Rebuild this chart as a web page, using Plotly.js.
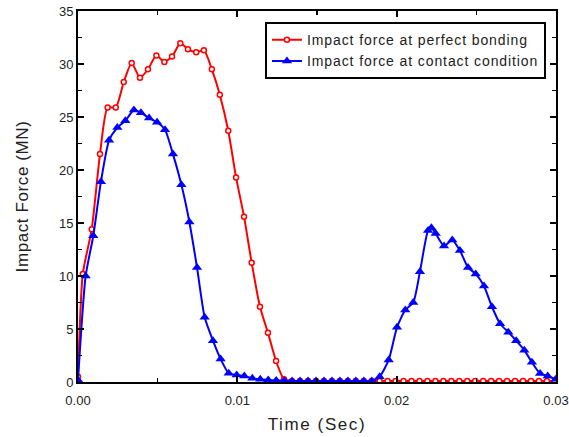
<!DOCTYPE html>
<html><head><meta charset="utf-8">
<script src="https://cdn.plot.ly/plotly-3.0.1.min.js"></script>
<style>html,body{margin:0;padding:0;background:#fff;}#chart{width:569px;height:437px;}
.legendtext{letter-spacing:0.9px;}
.xtitle{letter-spacing:1.6px;}
.ytitle{letter-spacing:0.6px;}
</style>
</head><body><div id="chart"></div>
<script>
var bondTime = [0, 0.0003, 0.00086, 0.00138, 0.00186, 0.00237, 0.00287, 0.00337, 0.00389, 0.00439, 0.00492, 0.00542, 0.0059, 0.00642, 0.0069, 0.00742, 0.0079, 0.0084, 0.0089, 0.00943, 0.00992, 0.01042, 0.0109, 0.01142, 0.01192, 0.01243, 0.01293,
  0.01343, 0.01393, 0.01443, 0.01493, 0.01543, 0.01593, 0.01643, 0.01693, 0.01743, 0.01793, 0.01843, 0.01893, 0.01943, 0.01993, 0.02043, 0.02093, 0.02143, 0.02193, 0.02243, 0.02293, 0.02343, 0.02393, 0.02443, 0.02493, 0.02543, 0.02593, 0.02643, 0.02693, 0.02743, 0.02793, 0.02843, 0.02893, 0.02943, 0.02993];
var bondForce = [0.5, 10.2, 14.4, 21.5, 25.9, 25.9, 28.3, 30.1, 28.7, 29.5, 30.8, 30.2, 30.7, 31.95, 31.4, 31.1, 31.3, 29.5, 27.1, 23.7, 19.3, 15.6, 11.25, 7.1, 4.65, 1.98, 0.25,
  0.1, 0.1, 0.1, 0.1, 0.1, 0.1, 0.1, 0.1, 0.1, 0.1, 0.1, 0.1, 0.1, 0.1, 0.1, 0.1, 0.1, 0.1, 0.1, 0.1, 0.1, 0.1, 0.1, 0.1, 0.1, 0.1, 0.1, 0.1, 0.1, 0.1, 0.1, 0.1, 0.1, 0.1];

var contactTime = [0, 0.00048, 0.00096, 0.00144, 0.00195, 0.00247, 0.00297, 0.00351, 0.00395, 0.00446, 0.00496, 0.00546, 0.00596, 0.00649, 0.00699, 0.00747, 0.00795, 0.00847, 0.00895, 0.00946, 0.00996, 0.01044, 0.01094, 0.01144, 0.01194,
  0.01244, 0.01294, 0.01344, 0.01394, 0.01444, 0.01494, 0.01544, 0.01594, 0.01644, 0.01694, 0.01744, 0.01794, 0.01844,
  0.01893, 0.0195, 0.02002, 0.02054, 0.02104, 0.02146, 0.02197, 0.02218, 0.02245, 0.02297, 0.02349, 0.02397, 0.02448, 0.02496, 0.02548, 0.02598, 0.02649, 0.02701, 0.0275, 0.02801, 0.02849, 0.029, 0.02948, 0.02998];
var contactForce = [0.2, 10.0, 13.8, 18.9, 22.8, 24.0, 24.65, 25.66, 25.4, 24.9, 24.5, 23.8, 21.5, 18.6, 15.1, 10.8, 6.1, 3.9, 2.17, 0.82, 0.66, 0.57, 0.35, 0.25, 0.2,
  0.15, 0.12, 0.1, 0.1, 0.1, 0.1, 0.1, 0.1, 0.1, 0.1, 0.1, 0.1, 0.1,
  0.5, 2.08, 5.16, 6.8, 7.5, 10.4, 14.3, 14.56, 14.0, 12.83, 13.4, 12.4, 10.8, 10.2, 9.06, 7.1, 5.5, 4.7, 3.9, 3.0, 1.86, 0.8, 0.57, 0.25];

var xTickVals = [0, 0.01, 0.02, 0.03];
var xTickText = ['0.00', '0.01', '0.02', '0.03'];
var yTickVals = [0, 5, 10, 15, 20, 25, 30, 35];

var font = "'Liberation Sans', Arial, sans-serif";

var traces = [
  {x: bondTime, y: bondForce, mode: 'lines+markers', name: 'Impact force at perfect bonding',
   line: {color: '#ff0000', width: 2, shape: 'spline', smoothing: 0.6},
   marker: {symbol: 'circle', size: 5, color: '#ffffff', line: {color: '#ff0000', width: 1.5}}},
  {x: contactTime, y: contactForce, mode: 'lines+markers', name: 'Impact force at contact condition',
   line: {color: '#0000ff', width: 2, shape: 'spline', smoothing: 0.6},
   marker: {symbol: 'triangle-up', size: 9, color: '#0000ff'}}
];

var layout = {
  width: 569, height: 437,
  margin: {l: 78, r: 13, t: 11, b: 55},
  paper_bgcolor: '#fff', plot_bgcolor: '#fff',
  showlegend: true,
  font: {family: font, color: '#000', size: 13},
  xaxis: {
    range: [0, 0.03], tickvals: xTickVals, ticktext: xTickText,
    showgrid: false, zeroline: false,
    showline: true, linecolor: '#000', linewidth: 2, mirror: 'ticks',
    ticks: 'inside', ticklen: 6, tickwidth: 2, tickcolor: '#000',
    ticklabelstandoff: 5,
    minor: {dtick: 0.005, ticks: 'inside', ticklen: 4, tickwidth: 1.5, tickcolor: '#000', showgrid: false},
    tickfont: {size: 13, family: font, color: '#222'},
    title: {text: 'Time (Sec)', font: {size: 17, family: font, color: '#222'}, standoff: 12}
  },
  yaxis: {
    range: [0, 35], tickvals: yTickVals,
    showgrid: false, zeroline: false,
    showline: true, linecolor: '#000', linewidth: 2, mirror: 'ticks',
    ticks: 'inside', ticklen: 6, tickwidth: 2, tickcolor: '#000',
    minor: {dtick: 2.5, ticks: 'inside', ticklen: 4, tickwidth: 1.5, tickcolor: '#000', showgrid: false},
    tickfont: {size: 13, family: font, color: '#222'},
    title: {text: 'Impact Force (MN)', font: {size: 17, family: font, color: '#222'}, standoff: 26}
  },
  legend: {
    x: 0.979, xanchor: 'right', y: 0.97, yanchor: 'top',
    bordercolor: '#000', borderwidth: 2, bgcolor: '#fff',
    font: {size: 14, family: font, color: '#222'},
    tracegroupgap: 0, itemwidth: 30
  }
};

Plotly.newPlot('chart', traces, layout, {displayModeBar: false, staticPlot: true});
</script>
</body></html>
